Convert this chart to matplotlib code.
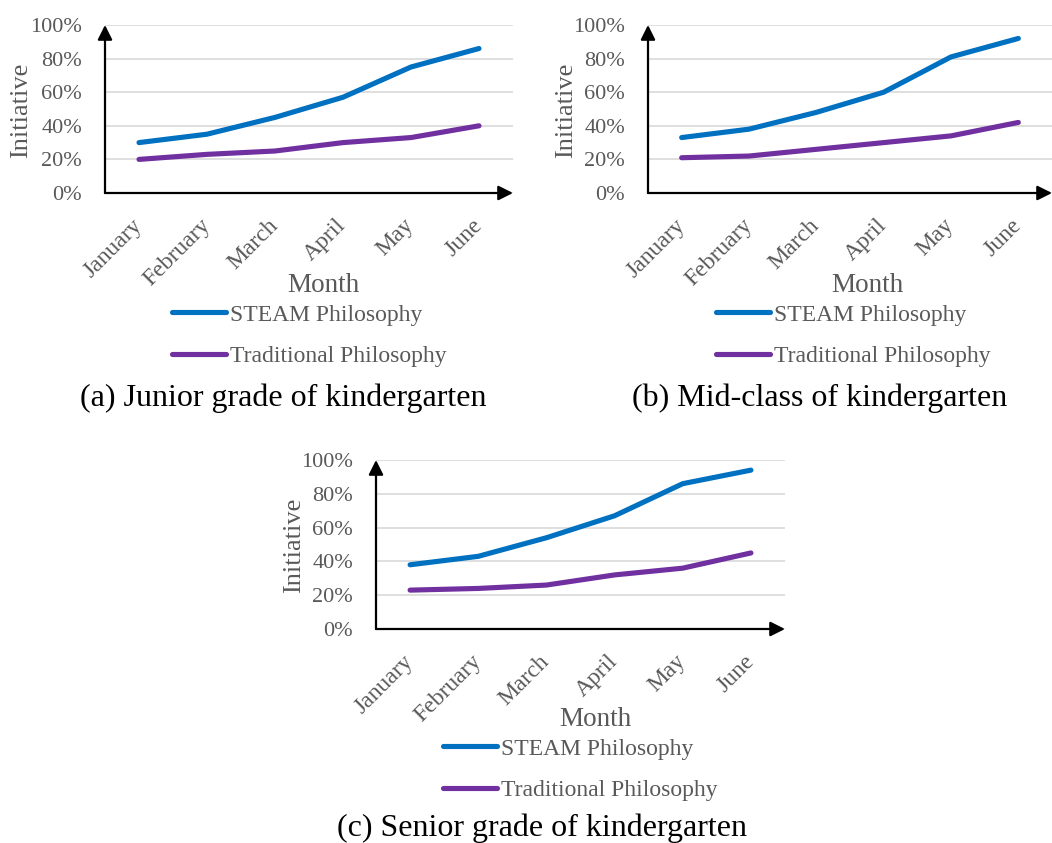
import numpy as np
import matplotlib.pyplot as plt
from matplotlib.ticker import PercentFormatter

plt.rcParams['font.family'] = ['Liberation Serif', 'DejaVu Serif']

months = ['January', 'February', 'March', 'April', 'May', 'June']

steam_junior = [0.30, 0.35, 0.45, 0.57, 0.75, 0.86]
trad_junior = [0.20, 0.23, 0.25, 0.30, 0.33, 0.40]

steam_mid = [0.33, 0.38, 0.48, 0.60, 0.81, 0.92]
trad_mid = [0.21, 0.22, 0.26, 0.30, 0.34, 0.42]

steam_senior = [0.38, 0.43, 0.54, 0.67, 0.86, 0.94]
trad_senior = [0.23, 0.24, 0.26, 0.32, 0.36, 0.45]

captions = ['(a) Junior grade of kindergarten',
            '(b) Mid-class of kindergarten',
            '(c) Senior grade of kindergarten']

W, H = 1052, 843
GREY = '#595959'
BLUE = '#0070C0'
PURPLE = '#7030A0'

fig = plt.figure(figsize=(W / 100, H / 100), dpi=100)


def fx(px):
    return px / W


def fy(py):
    return 1 - py / H


def panel(left, right, top, bottom, steam, trad, caption,
          ylab_x, month_x, month_y, leg_x, leg_y, cap_x, cap_y):
    ax = fig.add_axes([fx(left), fy(bottom), fx(right - left), (bottom - top) / H])
    x = np.arange(len(months))
    ax.plot(x, steam, color=BLUE, lw=3.7, solid_capstyle='round',
            solid_joinstyle='round', label='STEAM Philosophy', zorder=3)
    ax.plot(x, trad, color=PURPLE, lw=3.7, solid_capstyle='round',
            solid_joinstyle='round', label='Traditional Philosophy', zorder=3)
    ax.set_xlim(-0.5, len(months) - 0.5)
    ax.set_ylim(0, 1)
    ax.set_yticks(np.arange(0, 1.01, 0.2))
    ax.yaxis.set_major_formatter(PercentFormatter(1.0, decimals=0))
    ax.set_xticks(x)
    ax.set_xticklabels(months, rotation=45, ha='right', va='center',
                       rotation_mode='anchor')
    ax.tick_params(axis='y', length=0, pad=16.5, labelsize=16, labelcolor=GREY)
    ax.tick_params(axis='x', length=0, pad=21, labelsize=17, labelcolor=GREY)
    ax.grid(axis='y', color='#d9d9d9', lw=1.2)
    ax.set_axisbelow(True)
    for s in ax.spines.values():
        s.set_visible(False)

    # axis arrows
    arrow = dict(arrowstyle='-|>', lw=1.6, color='black', mutation_scale=22,
                 shrinkA=0, shrinkB=0)
    ax.annotate('', xy=(0, 1), xytext=(0, 0), xycoords='axes fraction',
                arrowprops=arrow, annotation_clip=False)
    ax.annotate('', xy=(1, 0), xytext=(0, 0), xycoords='axes fraction',
                arrowprops=arrow, annotation_clip=False)

    fig.text(fx(ylab_x), fy((top + bottom) / 2 + 1), 'Initiative', rotation=90,
             ha='center', va='center', fontsize=19, color=GREY)
    fig.text(fx(month_x), fy(month_y), 'Month', ha='center', va='center',
             fontsize=19.5, color=GREY)
    leg = ax.legend(loc='upper left', bbox_to_anchor=(fx(leg_x), fy(leg_y)),
                    bbox_transform=fig.transFigure, frameon=False,
                    fontsize=17, handlelength=2.3, handletextpad=0.15,
                    labelspacing=0.85, borderpad=0, borderaxespad=0)
    for t in leg.get_texts():
        t.set_color(GREY)
    fig.text(fx(cap_x), fy(cap_y), caption, ha='center', va='center',
             fontsize=23, color='black')
    return ax


panel(105, 513, 25, 193, steam_junior, trad_junior, captions[0],
      21, 323, 285, 172, 304, 283, 398)
panel(648, 1052, 25, 193, steam_mid, trad_mid, captions[1],
      566, 867, 285, 716, 304, 820, 398)
panel(376, 785, 460, 629, steam_senior, trad_senior, captions[2],
      294, 595, 720, 443, 738, 542, 828)

fig.savefig('out.png', dpi=100)
